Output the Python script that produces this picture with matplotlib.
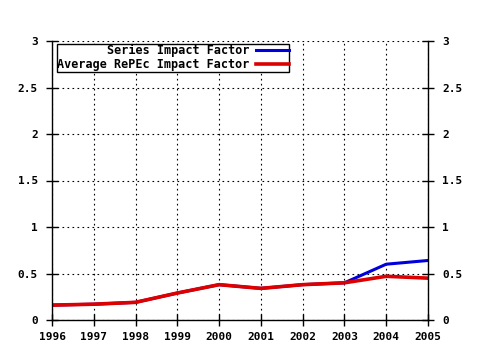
import matplotlib
matplotlib.use("Agg")
import matplotlib.pyplot as plt
from matplotlib.ticker import MultipleLocator

years = [1996, 1997, 1998, 1999, 2000, 2001, 2002, 2003, 2004, 2005]
series_if = [0.16, 0.17, 0.19, 0.29, 0.38, 0.34, 0.38, 0.40, 0.60, 0.64]
average_if = [0.16, 0.17, 0.19, 0.29, 0.38, 0.34, 0.38, 0.40, 0.47, 0.45]

plt.rcParams["font.family"] = "DejaVu Sans Mono"
plt.rcParams["font.weight"] = "bold"
plt.rcParams["font.size"] = 8

fig = plt.figure(figsize=(4.8, 3.5), dpi=100)
ax = fig.add_axes([52 / 480, 30 / 350, 376 / 480, 279 / 350])

ax.plot(years, series_if, color="#0000dd", lw=2.2, label="Series Impact Factor")
ax.plot(years, average_if, color="#dd0000", lw=2.6, label="Average RePEc Impact Factor")

ax.set_xlim(1996, 2005)
ax.set_ylim(0, 3)
ax.set_yticks([0, 0.5, 1, 1.5, 2, 2.5, 3])
ax.set_yticklabels(["0", "0.5", "1", "1.5", "2", "2.5", "3"])
ax.set_xticks(years)
ax.set_xticklabels([str(y) for y in years])

ax.grid(True, which="major", color="black", linestyle=(0, (1.5, 3)), linewidth=0.8)
ax.tick_params(axis="y", direction="inout", length=8, width=1,
               left=True, right=True, labelleft=True, labelright=True, pad=6)
ax.tick_params(axis="x", direction="inout", length=8, width=1, pad=5)
ax.spines["top"].set_visible(False)
for s in ["left", "right", "bottom"]:
    ax.spines[s].set_linewidth(1)

leg = ax.legend(loc="upper left", bbox_to_anchor=(0.013, 0.99), markerfirst=False,
                frameon=True, fancybox=False, edgecolor="black", framealpha=1,
                borderpad=0.05, labelspacing=0.05, handlelength=2.8, handletextpad=0.5,
                borderaxespad=0, prop={"family": "DejaVu Sans Mono", "weight": "bold", "size": 8.5})
for t in leg.get_texts():
    t.set_ha("right")
leg.get_frame().set_linewidth(1)

fig.savefig("out.png", dpi=100)
